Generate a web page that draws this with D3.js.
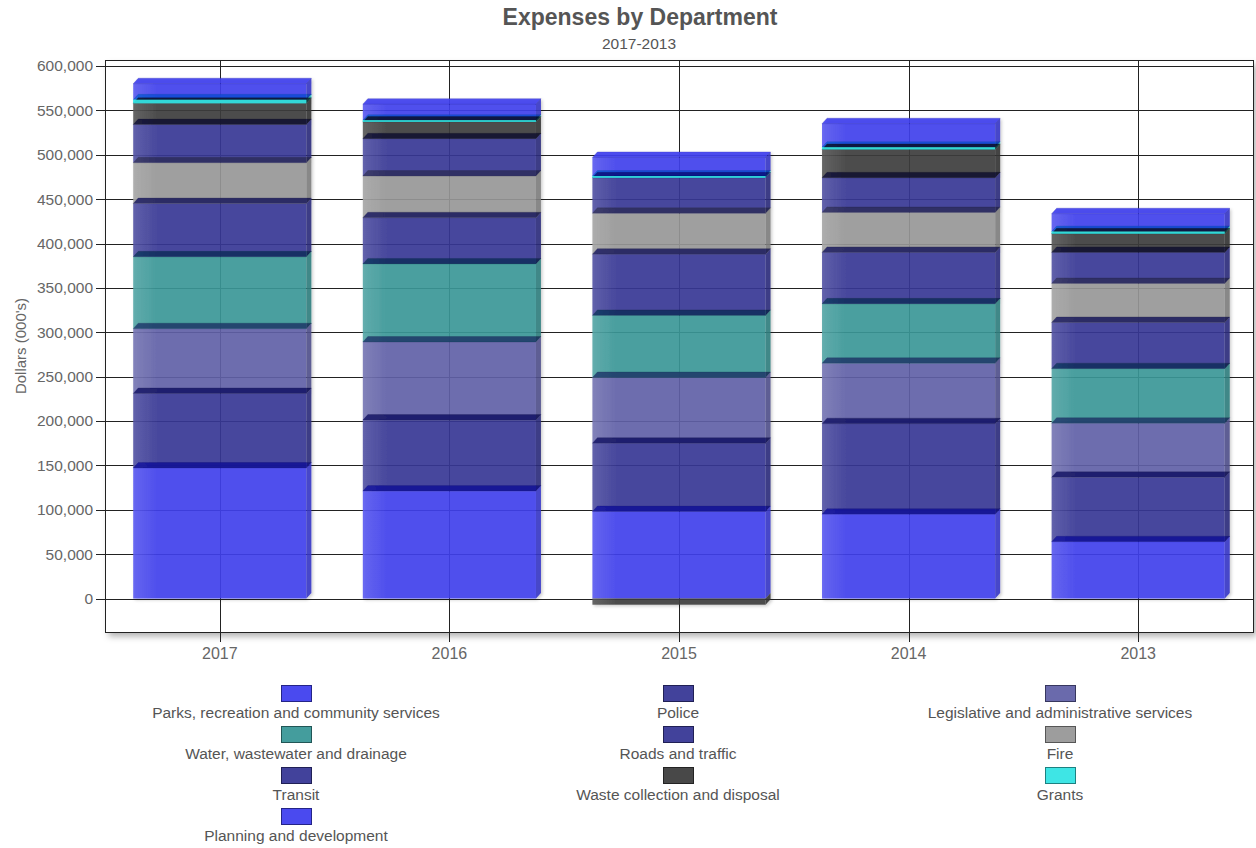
<!DOCTYPE html>
<html>
<head>
<meta charset="utf-8">
<script src="https://cdn.jsdelivr.net/npm/d3@7"></script>
<style>
  body { margin: 0; background: #fff; }
  svg { display: block; }
  text { font-family: "Liberation Sans", Arial, sans-serif; }
</style>
</head>
<body>
<svg id="chart" width="1256" height="848"></svg>
<script>
// Fiscal years, newest first
const years = ["2017", "2016", "2015", "2014", "2013"];

// Departments in stacking order (bottom to top)
const departments = [
  "Parks, recreation and community services",
  "Police",
  "Legislative and administrative services",
  "Water, wastewater and drainage",
  "Roads and traffic",
  "Fire",
  "Transit",
  "Waste collection and disposal",
  "Grants",
  "Planning and development"
];

const deptColors = [
  "#4040EE", "#383896", "#6262A8", "#3A9898", "#383896",
  "#989898", "#383896", "#3E3E3E", "#34E4E4", "#4040EE"
];

// Expenses in dollars (000's), one value per year
const parks       = [147000, 121000,  98000,  95000,  64000];
const police      = [ 84000,  80000,  77000, 102000,  72500];
const legislative = [ 73000,  88000,  74000,  68000,  61000];
const water       = [ 81000,  88000,  70000,  67000,  61500];
const roads       = [ 60000,  52000,  69000,  58000,  52000];
const fire        = [ 46000,  47000,  46000,  45000,  44000];
const transit     = [ 43000,  42000,  40000,  39000,  35000];
const waste       = [ 24000,  19000,  -7000,  32000,  21000];
const grants      = [  4000,   2000,   2000,   2500,   2500];
const planning    = [ 18000,  18000,  21000,  26500,  20000];

const seriesValues = [parks, police, legislative, water, roads, fire, transit, waste, grants, planning];

const yTicks = d3.range(0, 600001, 50000);

const titleText = "Expenses by Department";
const subtitleText = "2017-2013";
const yAxisTitle = "Dollars (000's)";

// ---- layout ----
const svg = d3.select("#chart");
const plot = { left: 105, right: 1253, top: 60, bottom: 632 };
const depthX = 5, depthY = 5.5;

const x = d3.scaleBand().domain(years).range([plot.left, plot.right]).paddingInner(0).paddingOuter(0);
const y = d3.scaleLinear().domain([0, 600000]).range([598.5, 66]);
const barW = x.bandwidth() * 0.754;

const defs = svg.append("defs");
const plotShadow = defs.append("filter").attr("id", "plotShadow")
  .attr("x", "-5%").attr("y", "-5%").attr("width", "110%").attr("height", "112%");
plotShadow.append("feDropShadow").attr("dx", 3).attr("dy", 4)
  .attr("stdDeviation", 3).attr("flood-color", "#000").attr("flood-opacity", 0.3);

const barShadow = defs.append("filter").attr("id", "barShadow")
  .attr("x", "-10%").attr("y", "-10%").attr("width", "120%").attr("height", "120%");
barShadow.append("feDropShadow").attr("dx", 1.5).attr("dy", 1.5)
  .attr("stdDeviation", 1.5).attr("flood-color", "#000").attr("flood-opacity", 0.22);

const sheen = defs.append("linearGradient").attr("id", "sheen").attr("x1", 0).attr("x2", 1).attr("y1", 0).attr("y2", 0);
sheen.append("stop").attr("offset", "0%").attr("stop-color", "#fff").attr("stop-opacity", 0.13);
sheen.append("stop").attr("offset", "9%").attr("stop-color", "#fff").attr("stop-opacity", 0.05);
sheen.append("stop").attr("offset", "14%").attr("stop-color", "#fff").attr("stop-opacity", 0);

// plot frame with shadow
svg.append("rect")
  .attr("x", plot.left + 0.5).attr("y", plot.top + 0.5)
  .attr("width", plot.right - plot.left).attr("height", plot.bottom - plot.top)
  .attr("fill", "#fff").attr("filter", "url(#plotShadow)");

// horizontal grid lines with outside ticks
const gridG = svg.append("g");
yTicks.forEach(t => {
  const yy = Math.round(y(t)) + 0.5;
  gridG.append("line")
    .attr("x1", plot.left - 9).attr("x2", plot.right)
    .attr("y1", yy).attr("y2", yy)
    .attr("stroke", "#222").attr("stroke-width", 1);
});
// vertical grid lines at categories, with ticks below the frame
years.forEach(yr => {
  const xx = Math.round(x(yr) + x.bandwidth() / 2) + 0.5;
  gridG.append("line")
    .attr("x1", xx).attr("x2", xx)
    .attr("y1", plot.top).attr("y2", plot.bottom + 10)
    .attr("stroke", "#222").attr("stroke-width", 1);
});
// frame border
svg.append("rect")
  .attr("x", plot.left + 0.5).attr("y", plot.top + 0.5)
  .attr("width", plot.right - plot.left).attr("height", plot.bottom - plot.top)
  .attr("fill", "none").attr("stroke", "#222").attr("stroke-width", 1);

// ---- stacking (positives up from zero, negatives down) ----
const segments = [];
years.forEach((yr, j) => {
  let pos = 0, neg = 0;
  seriesValues.forEach((vals, i) => {
    const v = vals[j];
    let y0, y1;
    if (v >= 0) { y0 = pos; y1 = pos + v; pos = y1; }
    else { y1 = neg; y0 = neg + v; neg = y0; }
    segments.push({ year: yr, series: i, value: v, y0, y1, color: deptColors[i] });
  });
});

const barsG = svg.append("g").attr("filter", "url(#barShadow)");

function frontX(d) { return x(d.year) + (x.bandwidth() - barW) / 2; }

function drawFront(g, d, opacity) {
  const x0 = frontX(d);
  const yt = y(d.y1), yb = y(d.y0);
  g.append("rect")
    .attr("x", x0).attr("y", yt).attr("width", barW).attr("height", Math.max(0, yb - yt))
    .attr("fill", d.color).attr("fill-opacity", opacity);
}

// front and side faces
segments.forEach(d => {
  const x1 = frontX(d) + barW;
  const yt = y(d.y1), yb = y(d.y0);
  drawFront(barsG, d, 0.9);
  barsG.append("path")
    .attr("d", `M${x1},${yt}L${x1 + depthX},${yt - depthY}L${x1 + depthX},${yb - depthY}L${x1},${yb}Z`)
    .attr("fill", d3.color(d.color).darker(0.5)).attr("fill-opacity", 0.9);
});

// light edge on the left of each column
years.forEach(yr => {
  const top = d3.max(segments.filter(s => s.year === yr), s => s.y1);
  const bot = d3.min(segments.filter(s => s.year === yr), s => s.y0);
  const x0 = x(yr) + (x.bandwidth() - barW) / 2;
  barsG.append("rect")
    .attr("x", x0).attr("y", y(top)).attr("width", barW).attr("height", y(bot) - y(top))
    .attr("fill", "url(#sheen)");
});

// top faces, blended over the segment above
segments.filter(d => d.value > 0).forEach(d => {
  const x0 = frontX(d), x1 = x0 + barW;
  const yt = y(d.y1);
  barsG.append("path")
    .attr("d", `M${x0},${yt}L${x0 + depthX},${yt - depthY}L${x1 + depthX},${yt - depthY}L${x1},${yt}Z`)
    .attr("fill", d.color).attr("fill-opacity", 0.92)
    .attr("stroke", d3.color(d.color).darker(0.8)).attr("stroke-opacity", 0.35).attr("stroke-width", 0.8)
    .style("mix-blend-mode", "multiply");
});

// thin slices stay visible above the face beneath them
segments.filter(d => d.value > 0 && (y(d.y0) - y(d.y1)) < depthY).forEach(d => {
  drawFront(barsG, d, 0.92);
});

// ---- axes text ----
const labelColor = "#666";
const yLab = svg.append("g");
yTicks.forEach(t => {
  yLab.append("text")
    .attr("x", 93).attr("y", y(t)).attr("dy", "0.35em")
    .attr("text-anchor", "end").attr("font-size", 15.5).attr("fill", labelColor)
    .text(d3.format(",")(t));
});
years.forEach(yr => {
  svg.append("text")
    .attr("x", x(yr) + x.bandwidth() / 2).attr("y", 653).attr("dy", "0.35em")
    .attr("text-anchor", "middle").attr("font-size", 16).attr("fill", labelColor)
    .text(yr);
});
svg.append("text")
  .attr("transform", `translate(21,${(plot.top + plot.bottom) / 2}) rotate(-90)`)
  .attr("text-anchor", "middle").attr("dy", "0.35em")
  .attr("font-size", 15).attr("fill", labelColor)
  .text(yAxisTitle);

// ---- titles ----
svg.append("text")
  .attr("x", 640).attr("y", 17).attr("dy", "0.35em")
  .attr("text-anchor", "middle").attr("font-size", 23).attr("font-weight", "bold").attr("fill", "#555")
  .text(titleText);
svg.append("text")
  .attr("x", 639).attr("y", 44).attr("dy", "0.35em")
  .attr("text-anchor", "middle").attr("font-size", 15.5).attr("fill", "#555")
  .text(subtitleText);

// ---- legend ----
const legendCols = [296, 678, 1060];
const legendG = svg.append("g");
departments.forEach((name, i) => {
  const cx = legendCols[i % 3];
  const top = 685 + 41 * Math.floor(i / 3);
  legendG.append("rect")
    .attr("x", cx - 15 + 0.5).attr("y", top + 0.5).attr("width", 30).attr("height", 16)
    .attr("fill", deptColors[i]).attr("fill-opacity", 0.95)
    .attr("stroke", d3.color(deptColors[i]).darker(1.6)).attr("stroke-width", 1);
  legendG.append("text")
    .attr("x", cx).attr("y", top + 28).attr("dy", "0.35em")
    .attr("text-anchor", "middle").attr("font-size", 15.5).attr("fill", "#555")
    .text(name);
});
</script>
</body>
</html>
